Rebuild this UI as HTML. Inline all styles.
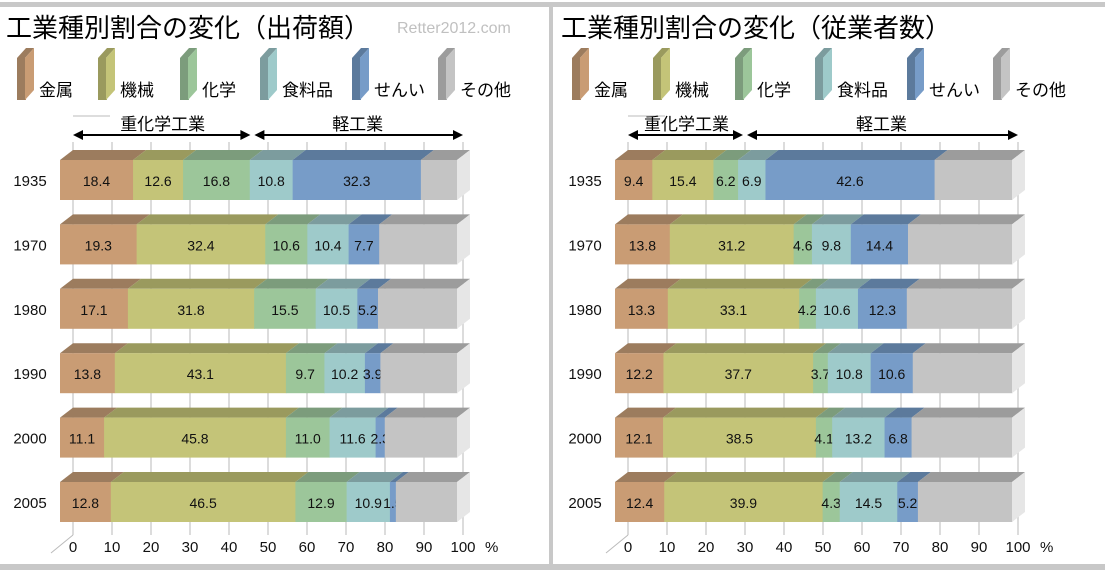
<!DOCTYPE html>
<html><head><meta charset="utf-8">
<style>
body{margin:0;background:#fff;}
svg{display:block;font-family:"Liberation Sans","Noto Sans CJK JP",sans-serif;}
</style></head>
<body>
<svg id="c" width="1105" height="577" xmlns="http://www.w3.org/2000/svg">
<rect x="0" y="2" width="1105" height="5" fill="#c8c8c8"/>
<rect x="0" y="564" width="1105" height="6" fill="#c8c8c8"/>
<rect x="549" y="7" width="4" height="557" fill="#c8c8c8"/>
<text x="397" y="33" font-size="16" fill="#c0c0c0">Retter2012.com</text>
</svg>
<script>
const categories = ['金属','機械','化学','食料品','せんい','その他'];
const years = ['1935','1970','1980','1990','2000','2005'];
const ticks = [0,10,20,30,40,50,60,70,80,90,100];
const shipValues = [
  [18.4,12.6,16.8,10.8,32.3],
  [19.3,32.4,10.6,10.4,7.7],
  [17.1,31.8,15.5,10.5,5.2],
  [13.8,43.1,9.7,10.2,3.9],
  [11.1,45.8,11.0,11.6,2.3],
  [12.8,46.5,12.9,10.9,1.5]
];
const workerValues = [
  [9.4,15.4,6.2,6.9,42.6],
  [13.8,31.2,4.6,9.8,14.4],
  [13.3,33.1,4.2,10.6,12.3],
  [12.2,37.7,3.7,10.8,10.6],
  [12.1,38.5,4.1,13.2,6.8],
  [12.4,39.9,4.3,14.5,5.2]
];
const titles = ['工業種別割合の変化（出荷額）','工業種別割合の変化（従業者数）'];
const heavyShare = [46, 30];

const front = ['#c99c74','#c4c478','#9cc69a','#9ecaca','#779cc8','#c4c4c4'];
const top_ = ['#9c7c5e','#9a9a5e','#7c9c7c','#7c9c9e','#5c7a9c','#9c9c9c'];
const NS='http://www.w3.org/2000/svg';
const svg=document.getElementById('c');
function el(tag,attrs,parent){const e=document.createElementNS(NS,tag);for(const k in attrs)e.setAttribute(k,attrs[k]);(parent||svg).appendChild(e);return e;}
function txt(x,y,s,size,attrs,parent){const t=el('text',Object.assign({x:x,y:y,'font-size':size,fill:'#111'},attrs||{}),parent);t.textContent=s;return t;}

function panel(ox, values, title, heavy, pi){
  const g=el('g',{});
  
  
  const t=txt(ox+6,37,title,26,{fill:'#000'},g);
  
  
  const lx=[17,98,180,260,352,438];
  categories.forEach((c,i)=>{
    const x=ox+lx[i];
    const lg=el('g',{},g);
    
    
    el('polygon',{points:`${x},${58} ${x+9},${48} ${x+17},${48} ${x+8},${58}`,fill:top_[i]},lg);
    el('rect',{x:x,y:58,width:9,height:42,fill:top_[i]},lg);
    el('polygon',{points:`${x+8},${58} ${x+17},${48} ${x+17},${90} ${x+8},${100}`,fill:front[i]},lg);
    txt(x+22,96,c,17,{fill:'#000'},lg);
  });
  const x0=ox+73, sc=3.9;
  const X=v=>x0+v*sc;
  el('line',{x1:ox+73,y1:116,x2:ox+110,y2:116,stroke:'#ddd','stroke-width':2},g);
  const hx=X(heavy);
  const br=el('g',{},g);
  
  
  el('line',{x1:X(0)+2,y1:135,x2:hx-4,y2:135,stroke:'#000','stroke-width':2},br);
  el('line',{x1:hx+4,y1:135,x2:X(100)-2,y2:135,stroke:'#000','stroke-width':2},br);
  el('polygon',{points:`${X(0)},135 ${X(0)+10},130 ${X(0)+10},140`,fill:'#000'},br);
  el('polygon',{points:`${hx-2},135 ${hx-12},130 ${hx-12},140`,fill:'#000'},br);
  el('polygon',{points:`${hx+2},135 ${hx+12},130 ${hx+12},140`,fill:'#000'},br);
  el('polygon',{points:`${X(100)},135 ${X(100)-10},130 ${X(100)-10},140`,fill:'#000'},br);
  txt((X(0)+hx)/2,130,'重化学工業',17,{'text-anchor':'middle',fill:'#000'},br);
  txt((hx+X(100))/2,130,'軽工業',17,{'text-anchor':'middle',fill:'#000'},br);
  ticks.forEach(v=>{
    const gl=el('line',{x1:X(v),y1:142,x2:X(v),y2:535,stroke:'#d0d0d0','stroke-width':1.5},g);
    
    
    const tl=txt(X(v),552,String(v),15,{'text-anchor':'middle',fill:'#111'},g);
    
    
  });
  el('line',{x1:X(0)-22,y1:553,x2:X(0),y2:535,stroke:'#bbb'},g);
  txt(X(100)+22,552,'%',15,{fill:'#111'},g);
  const bx=ox+60, bs=3.97, dx=13, dy=10, h=40;
  values.forEach((row,r)=>{
    const y=160+r*64.4;
    const vals=row.concat([Math.max(0,100-row.reduce((a,b)=>a+b,0))]);
    const yl=txt(ox+30,y+26,years[r],15,{'text-anchor':'middle',fill:'#111'},g);
    
    
    let cum=0;
    vals.forEach((v,i)=>{
      const a=bx+cum*bs, w=v*bs;
      const seg=el('g',{},g);
      
      
      el('polygon',{points:`${a},${y} ${a+dx},${y-dy} ${a+w+dx},${y-dy} ${a+w},${y}`,fill:top_[i]},seg);
      el('rect',{x:a,y:y,width:w+0.5,height:h,fill:front[i]},seg);
      if(i<5) txt(a+w/2,y+26,v.toFixed(1),14,{'text-anchor':'middle',fill:'#111'},seg);
      cum+=v;
    });
    const e=bx+100*bs;
    el('polygon',{points:`${e},${y} ${e+dx},${y-dy} ${e+dx},${y+h-dy} ${e},${y+h}`,fill:'#e6e6e6'},g);
  });
}
panel(0, shipValues, titles[0], heavyShare[0], 0);
panel(555, workerValues, titles[1], heavyShare[1], 1);
</script>
</body></html>
